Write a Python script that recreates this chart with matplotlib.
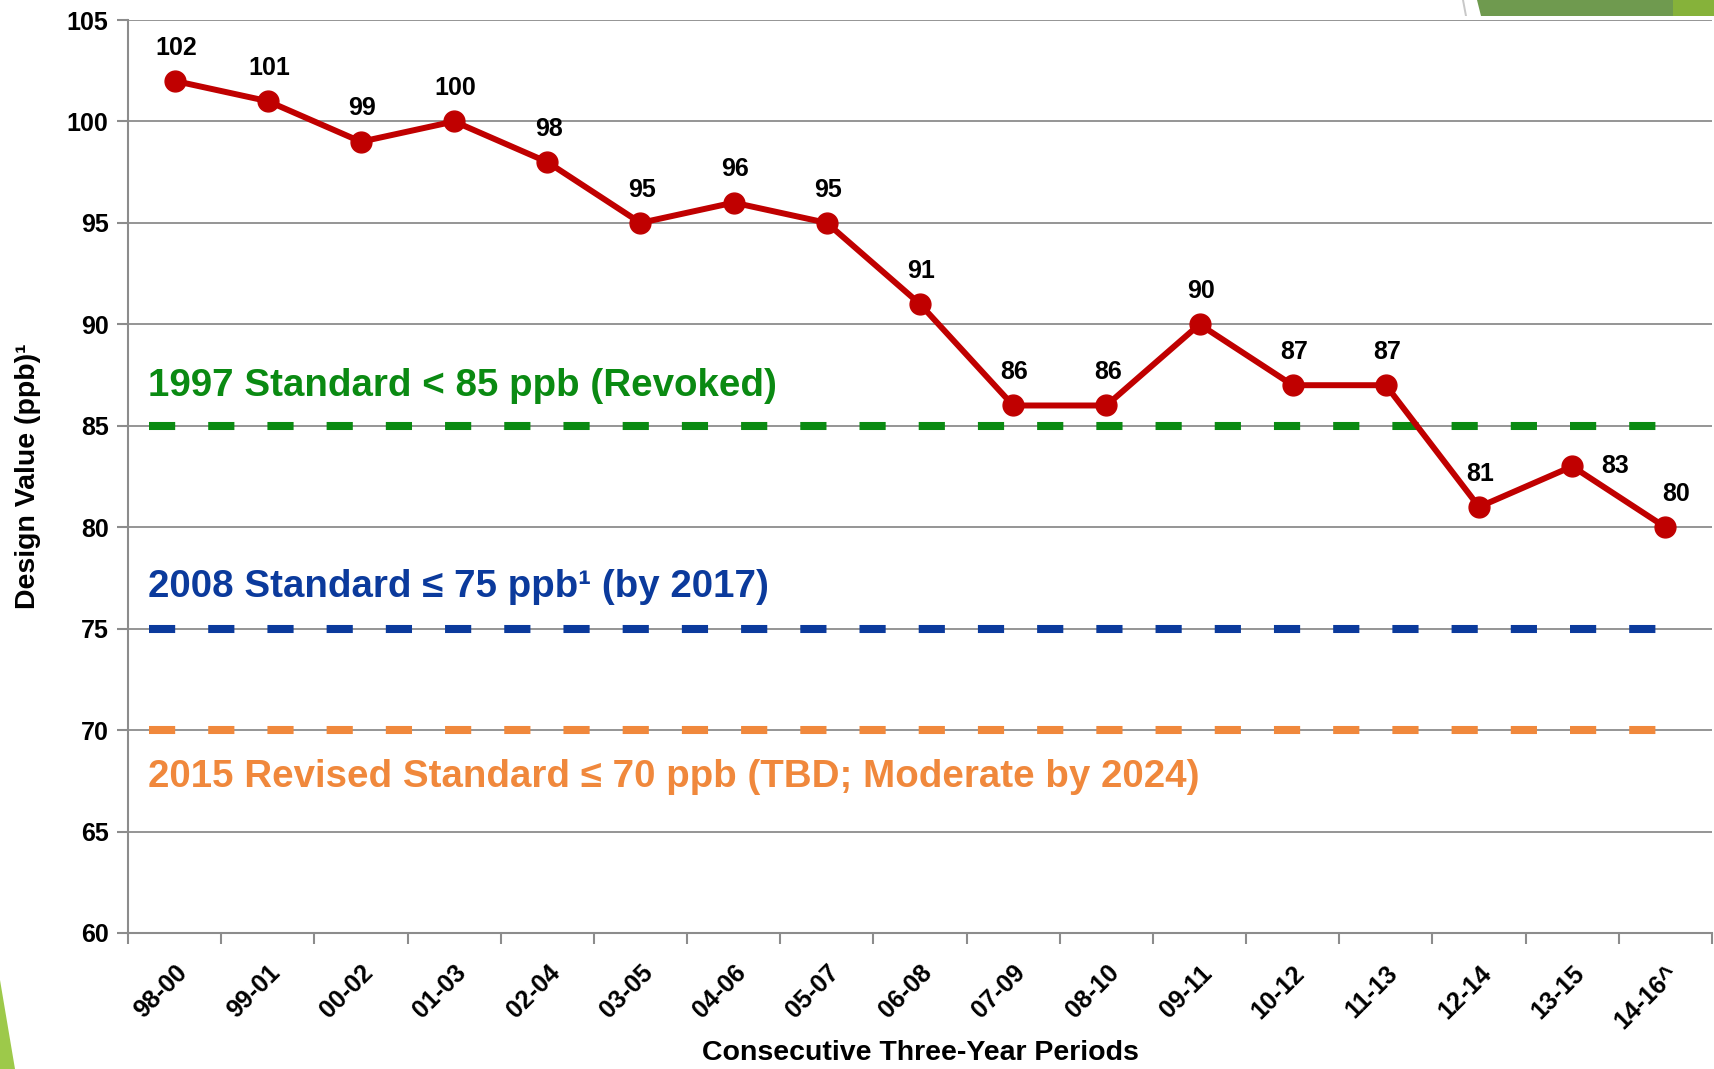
import matplotlib
matplotlib.use("Agg")
import matplotlib.pyplot as plt
from matplotlib.patches import Polygon
from matplotlib.transforms import ScaledTranslation

plt.rcParams['font.family'] = ['Liberation Sans', 'DejaVu Sans']

# data
periods = ['98-00', '99-01', '00-02', '01-03', '02-04', '03-05', '04-06', '05-07', '06-08',
           '07-09', '08-10', '09-11', '10-12', '11-13', '12-14', '13-15', '14-16^']
design_values = [102, 101, 99, 100, 98, 95, 96, 95, 91, 86, 86, 90, 87, 87, 81, 83, 80]

std_levels = [85, 75, 70]
std_labels = ['1997 Standard < 85 ppb (Revoked)',
              '2008 Standard \u2264 75 ppb\u00b9 (by 2017)',
              '2015 Revised Standard \u2264 70 ppb (TBD; Moderate by 2024)']
std_colors = ['#0a8a12', '#0b3a9c', '#f0883c']
std_text_y = [86.95, 77.03, 67.7]

red = '#c00000'
grey = '#8c8c8c'

fig = plt.figure(figsize=(17.15, 10.69), dpi=100)
ax = fig.add_axes([128 / 1715, 1 - 933 / 1069, 1584 / 1715, 913 / 1069])

x = list(range(len(periods)))

# standard lines (dashed)
for lvl, col in zip(std_levels, std_colors):
    ax.hlines(lvl, -0.27, 15.9, colors=col, linewidth=5.8,
              linestyles=(0, (3.25, 4.1)), capstyle='butt', zorder=3)

for lvl, txt, col, ty in zip(std_levels, std_labels, std_colors, std_text_y):
    ax.text(-0.29, ty, txt, color=col, fontsize=27.7, fontweight='bold',
            ha='left', va='center', zorder=4)

# main series
ax.plot(x, design_values, color=red, linewidth=4.3, marker='o', markersize=15,
        zorder=5, clip_on=False)

# data labels
offsets = {15: (31, 0), 16: (8, 24)}
for i, v in enumerate(design_values):
    dx, dy = offsets.get(i, (1, 24))
    ax.annotate(str(v), (i, v), xytext=(dx, dy), textcoords='offset points',
                ha='center', va='center', fontsize=18, fontweight='bold', zorder=6)

ax.set_xlim(-0.5, len(periods) - 0.5)
ax.set_ylim(60, 105)
ax.set_yticks(range(60, 106, 5))
ax.set_yticklabels([str(v) for v in range(60, 106, 5)], fontsize=18, fontweight='bold')
ax.set_xticks([i - 0.5 for i in range(len(periods) + 1)])
ax.set_xticklabels([])
ax.set_xticks(x, minor=True)
ax.set_xticklabels(periods, minor=True, rotation=45, ha='right', va='top',
                   rotation_mode='anchor', fontsize=18, fontweight='bold')
# nudge the rotated labels a little left
shift = ScaledTranslation(-4 / 72, 0, fig.dpi_scale_trans)
for lab in ax.get_xticklabels(minor=True):
    lab.set_transform(lab.get_transform() + shift)
ax.tick_params(axis='x', which='minor', length=0, pad=20)
ax.tick_params(axis='x', which='major', length=8, color=grey, width=1.5)
ax.tick_params(axis='y', length=8, color=grey, width=1.5, pad=6)

ax.grid(axis='y', color=grey, linewidth=1.3)
ax.set_axisbelow(True)
for s in ['right', 'top']:
    ax.spines[s].set_visible(False)
for s in ['left', 'bottom']:
    ax.spines[s].set_color(grey)
    ax.spines[s].set_linewidth(1.5)

ax.set_ylabel('Design Value (ppb)\u00b9', fontsize=20.5, fontweight='bold')
ax.yaxis.set_label_coords(-0.055, 0.5)
ax.set_xlabel('Consecutive Three-Year Periods', fontsize=20.5, fontweight='bold')
ax.xaxis.set_label_coords(0.5, -0.117)

# slide decorations
W, H = 1715, 1069
def fig_poly(pts, color):
    fig.patches.append(Polygon([(px / W, 1 - py / H) for px, py in pts], closed=True,
                               transform=fig.transFigure, facecolor=color,
                               edgecolor='none', zorder=0))

fig_poly([(1477, 0), (1715, 0), (1715, 16), (1481, 16)], '#6f9a4f')
fig_poly([(1673, 0), (1715, 0), (1715, 16), (1673, 16)], '#86b23a')
fig_poly([(1462, 0), (1464, 0), (1467, 16), (1465, 16)], '#c8c8c8')
fig_poly([(0, 980), (15, 1069), (0, 1069)], '#9dc94a')

fig.savefig('out.png', dpi=100)
